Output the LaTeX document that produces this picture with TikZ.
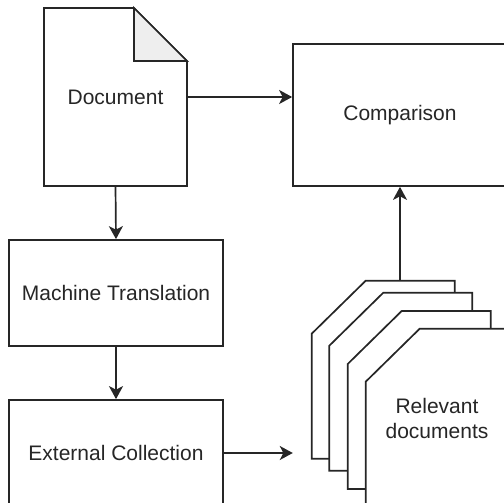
\documentclass[tikz,border=0pt]{standalone}
\usepackage{fontspec}
\setmainfont{Liberation Sans}
\usetikzlibrary{arrows.meta}
\definecolor{ink}{HTML}{262626}
\definecolor{foldgray}{HTML}{EEEEEE}
\tikzset{
  x=1pt, y=-1pt,
  every node/.style={font=\fontsize{21}{25}\selectfont, text=ink},
  box/.style={draw=ink, line width=1.7pt, fill=white, rectangle, inner sep=0pt},
  outline/.style={draw=ink, line width=1.7pt, line join=miter},
  conn/.style={draw=ink, line width=1.7pt, -{Stealth[length=13pt, width=14pt, inset=3.5pt]}},
}
% card with a cut top-left corner: #1 = left, #2 = top
\newcommand{\cardshape}[2]{%
  \path[outline, fill=white] (#1,#2+53) -- (#1+54,#2) -- (#1+143,#2) --
    (#1+143,#2+178) -- (#1,#2+178) -- cycle;}
\begin{document}
\begin{tikzpicture}
\useasboundingbox (0,0) rectangle (504,503);

% document sheet with folded corner
\node[minimum width=143pt, minimum height=178pt, inner sep=0pt] (doc) at (115.5,97) {};
\path[outline, fill=white] (44,8) -- (134,8) -- (187,61) -- (187,186) -- (44,186) -- cycle;
\path[outline, fill=foldgray] (134,8) -- (187,61) -- (134,61) -- cycle;
\node at (doc.center) {Document};

% process boxes
\node[box, minimum width=214pt, minimum height=142pt] (cmp) at (400,115) {Comparison};
\node[box, minimum width=214pt, minimum height=106pt] (mt) at (116,293) {Machine Translation};
\node[box, minimum width=214pt, minimum height=106pt] (ext) at (116,453) {External Collection};

% stack of relevant documents
\node[minimum width=214pt, minimum height=344pt, inner sep=0pt] (docs) at (400,453) {};
\cardshape{311.7}{280.7}
\cardshape{329.3}{292.7}
\cardshape{347.7}{311}
\cardshape{365.7}{328.7}
\node[align=center] (rel) at (437,418) {Relevant\\documents};

% connectors
\draw[conn] (doc.east) -- (cmp.west |- doc.east);
\draw[conn] (doc.south) -- (mt.north);
\draw[conn] (mt.south) -- (ext.north);
\draw[conn] (ext.east) -- (docs.west);
\draw[conn] (docs.north) -- (cmp.south);
\end{tikzpicture}
\end{document}
